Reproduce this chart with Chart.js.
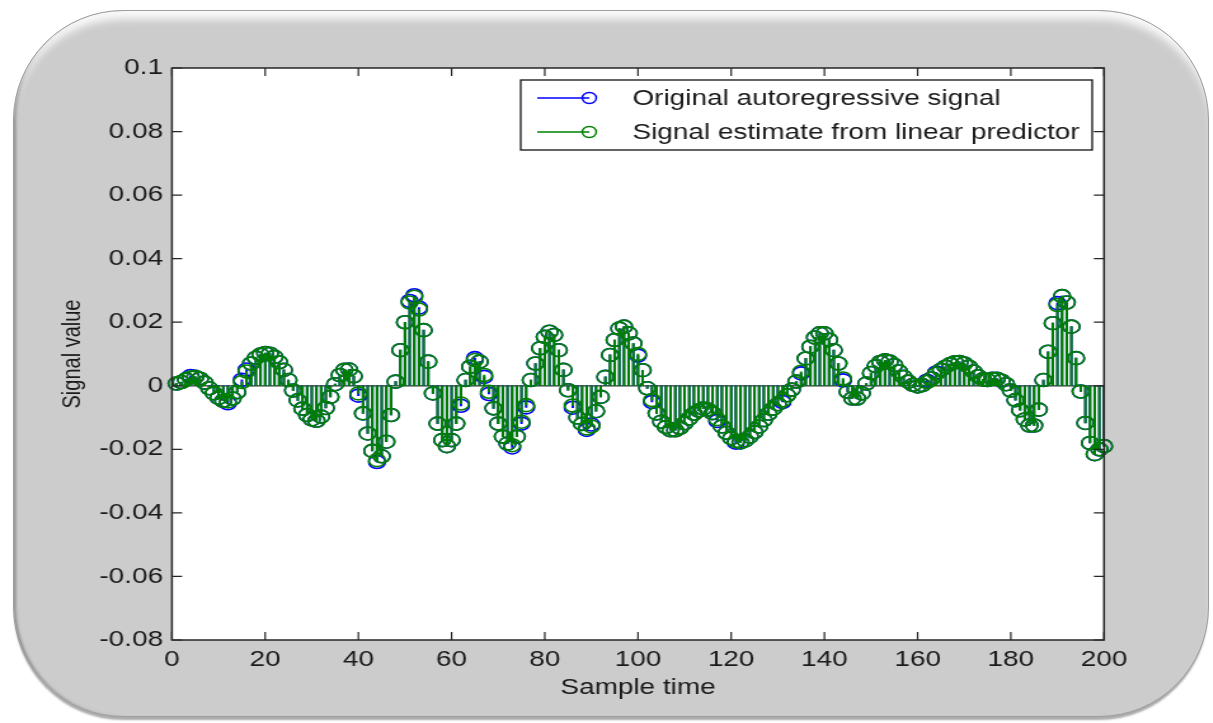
<!DOCTYPE html>
<html>
<head>
<meta charset="utf-8">
<script src="https://cdn.jsdelivr.net/npm/chart.js@4.4.0/dist/chart.umd.min.js"></script>
<style>
html, body { margin: 0; padding: 0; background: #fff; width: 1213px; height: 723px; overflow: hidden; }
#frame {
    position: absolute; left: 13px; top: 10px; width: 1196px; height: 707px;
    box-sizing: border-box; background: #cccccc; border-radius: 110px;
    border: 1px solid #9e9e9e;
    box-shadow: inset 0 13px 9px -5px rgba(255,255,255,0.9),
                inset 4px 0 3px -2px rgba(110,110,110,0.7),
                0 4px 2px -1px rgba(150,150,150,0.8);
}
#plot { position: absolute; left: 0; top: 0; width: 955px; height: 723px; transform: scaleX(1.27); transform-origin: 0 0; }
</style>
</head>
<body>
<div id="frame"></div>
<div id="plot"><canvas id="stemChart" width="955" height="723"></canvas></div>
<script>
// sample times 1..200
const sampleTime = Array.from({length: 200}, (_, i) => i + 1);

const xTicks = [0, 20, 40, 60, 80, 100, 120, 140, 160, 180, 200];
const yTicks = [-0.08, -0.06, -0.04, -0.02, 0, 0.02, 0.04, 0.06, 0.08, 0.1];
const yTickLabels = ['-0.08', '-0.06', '-0.04', '-0.02', '0', '0.02', '0.04', '0.06', '0.08', '0.1'];

const seriesNames = ['Original autoregressive signal', 'Signal estimate from linear predictor'];

const originalSignal = [
    0.0007, 0.0012, 0.0020, 0.0031, 0.0028, 0.0022, 0.0010, -0.0008, -0.0024, -0.0038,
    -0.0047, -0.0055, -0.0040, -0.0020, 0.0019, 0.0051, 0.0070, 0.0088, 0.0098, 0.0103,
    0.0101, 0.0091, 0.0074, 0.0050, 0.0018, -0.0015, -0.0046, -0.0072, -0.0092, -0.0106,
    -0.0110, -0.0097, -0.0070, -0.0035, 0.0005, 0.0034, 0.0050, 0.0051, 0.0030, -0.0031,
    -0.0087, -0.0150, -0.0205, -0.0240, -0.0222, -0.0176, -0.0092, 0.0013, 0.0112, 0.0200,
    0.0267, 0.0285, 0.0246, 0.0175, 0.0076, -0.0024, -0.0119, -0.0171, -0.0190, -0.0171,
    -0.0119, -0.0063, 0.0018, 0.0060, 0.0087, 0.0076, 0.0028, -0.0026, -0.0071, -0.0119,
    -0.0160, -0.0182, -0.0194, -0.0160, -0.0119, -0.0068, 0.0018, 0.0070, 0.0118, 0.0154,
    0.0170, 0.0160, 0.0112, 0.0050, -0.0014, -0.0069, -0.0100, -0.0120, -0.0139, -0.0122,
    -0.0080, -0.0035, 0.0028, 0.0097, 0.0144, 0.0180, 0.0186, 0.0165, 0.0133, 0.0095,
    0.0049, -0.0008, -0.0051, -0.0087, -0.0113, -0.0130, -0.0140, -0.0140, -0.0132, -0.0118,
    -0.0103, -0.0088, -0.0078, -0.0072, -0.0075, -0.0086, -0.0111, -0.0128, -0.0148, -0.0165,
    -0.0179, -0.0178, -0.0172, -0.0160, -0.0146, -0.0128, -0.0108, -0.0088, -0.0072, -0.0058,
    -0.0051, -0.0030, -0.0012, 0.0013, 0.0039, 0.0086, 0.0123, 0.0152, 0.0165, 0.0165,
    0.0145, 0.0112, 0.0070, 0.0017, -0.0019, -0.0040, -0.0040, -0.0024, 0.0007, 0.0040,
    0.0062, 0.0075, 0.0080, 0.0076, 0.0065, 0.0045, 0.0028, 0.0013, 0.0003, -0.0002,
    0.0002, 0.0016, 0.0023, 0.0042, 0.0050, 0.0060, 0.0068, 0.0074, 0.0075, 0.0070,
    0.0060, 0.0045, 0.0030, 0.0020, 0.0018, 0.0022, 0.0022, 0.0016, 0.0005, -0.0015,
    -0.0045, -0.0077, -0.0106, -0.0125, -0.0125, -0.0075, 0.0018, 0.0107, 0.0197, 0.0260,
    0.0282, 0.0262, 0.0186, 0.0087, -0.0018, -0.0117, -0.0180, -0.0215, -0.0200, -0.0190
];

const estimatedSignal = [
    0.0007, 0.0012, 0.0020, 0.0026, 0.0028, 0.0022, 0.0010, -0.0008, -0.0024, -0.0038,
    -0.0047, -0.0049, -0.0040, -0.0020, 0.0012, 0.0045, 0.0070, 0.0088, 0.0098, 0.0103,
    0.0101, 0.0091, 0.0074, 0.0050, 0.0018, -0.0015, -0.0046, -0.0072, -0.0092, -0.0106,
    -0.0110, -0.0097, -0.0070, -0.0035, 0.0005, 0.0034, 0.0050, 0.0051, 0.0030, -0.0024,
    -0.0087, -0.0150, -0.0205, -0.0234, -0.0222, -0.0176, -0.0092, 0.0013, 0.0112, 0.0200,
    0.0262, 0.0280, 0.0240, 0.0175, 0.0076, -0.0024, -0.0119, -0.0171, -0.0190, -0.0171,
    -0.0119, -0.0056, 0.0018, 0.0060, 0.0081, 0.0076, 0.0034, -0.0019, -0.0071, -0.0119,
    -0.0160, -0.0182, -0.0187, -0.0160, -0.0113, -0.0061, 0.0018, 0.0070, 0.0118, 0.0154,
    0.0170, 0.0160, 0.0112, 0.0050, -0.0014, -0.0062, -0.0100, -0.0120, -0.0134, -0.0128,
    -0.0080, -0.0035, 0.0028, 0.0097, 0.0144, 0.0180, 0.0186, 0.0165, 0.0133, 0.0100,
    0.0049, -0.0008, -0.0045, -0.0087, -0.0113, -0.0130, -0.0140, -0.0140, -0.0132, -0.0118,
    -0.0103, -0.0088, -0.0078, -0.0072, -0.0075, -0.0086, -0.0105, -0.0128, -0.0148, -0.0165,
    -0.0174, -0.0178, -0.0172, -0.0160, -0.0146, -0.0128, -0.0108, -0.0088, -0.0072, -0.0058,
    -0.0046, -0.0030, -0.0012, 0.0013, 0.0044, 0.0086, 0.0123, 0.0152, 0.0165, 0.0165,
    0.0145, 0.0112, 0.0070, 0.0023, -0.0019, -0.0040, -0.0040, -0.0024, 0.0007, 0.0040,
    0.0062, 0.0075, 0.0080, 0.0076, 0.0065, 0.0045, 0.0028, 0.0013, 0.0003, -0.0002,
    0.0002, 0.0012, 0.0023, 0.0038, 0.0050, 0.0060, 0.0068, 0.0074, 0.0075, 0.0070,
    0.0060, 0.0045, 0.0030, 0.0020, 0.0018, 0.0022, 0.0022, 0.0016, 0.0005, -0.0015,
    -0.0045, -0.0077, -0.0106, -0.0125, -0.0125, -0.0075, 0.0018, 0.0107, 0.0197, 0.0254,
    0.0282, 0.0262, 0.0186, 0.0087, -0.0018, -0.0117, -0.0180, -0.0215, -0.0200, -0.0190
];

const BLUE = '#0000ff';
const GREEN = '#008000';
const INK = '#262626';
const FONT = '"Liberation Sans", Arial, Helvetica, sans-serif';

const toPoints = (values) => values.map((v, i) => ({x: sampleTime[i], y: v}));

function stems(values, color, order) {
    return {
        type: 'bar',
        data: toPoints(values),
        backgroundColor: color,
        barThickness: 1.3,
        grouped: false,
        order: order
    };
}

function markers(values, color, order) {
    return {
        type: 'line',
        data: toPoints(values),
        showLine: false,
        pointStyle: 'circle',
        pointRadius: 6.5,
        pointBorderWidth: 1.6,
        pointBorderColor: color,
        pointBackgroundColor: 'rgba(0,0,0,0)',
        clip: false,
        order: order
    };
}

// white plot box, zero baseline, inward ticks on all four sides, legend inside
const matlabAxes = {
    id: 'matlabAxes',
    beforeDraw(chart) {
        const {ctx, chartArea: a} = chart;
        ctx.save();
        ctx.fillStyle = '#ffffff';
        ctx.fillRect(a.left, a.top, a.right - a.left, a.bottom - a.top);
        ctx.restore();
    },
    beforeDatasetsDraw(chart) {
        const {ctx, chartArea: a, scales: {y}} = chart;
        const y0 = y.getPixelForValue(0);
        ctx.save();
        ctx.strokeStyle = '#333333';
        ctx.lineWidth = 1.2;
        ctx.beginPath();
        ctx.moveTo(a.left, y0);
        ctx.lineTo(a.right, y0);
        ctx.stroke();
        ctx.restore();
    },
    afterDraw(chart) {
        const {ctx, chartArea: a, scales: {x, y}} = chart;
        ctx.save();
        ctx.strokeStyle = INK;
        ctx.lineWidth = 1.5;
        ctx.strokeRect(a.left, a.top, a.right - a.left, a.bottom - a.top);

        ctx.lineWidth = 1.2;
        ctx.beginPath();
        xTicks.forEach(t => {
            const px = x.getPixelForValue(t);
            ctx.moveTo(px, a.bottom); ctx.lineTo(px, a.bottom - 8);
            ctx.moveTo(px, a.top); ctx.lineTo(px, a.top + 8);
        });
        yTicks.forEach(t => {
            const py = y.getPixelForValue(t);
            ctx.moveTo(a.left, py); ctx.lineTo(a.left + 8, py);
            ctx.moveTo(a.right, py); ctx.lineTo(a.right - 8, py);
        });
        ctx.stroke();

        // legend
        const lx = 410, ly = 80, lw = 450, lh = 70;
        ctx.fillStyle = '#ffffff';
        ctx.fillRect(lx, ly, lw, lh);
        ctx.strokeStyle = '#111111';
        ctx.lineWidth = 1.3;
        ctx.strokeRect(lx, ly, lw, lh);
        [BLUE, GREEN].forEach((color, i) => {
            const ry = ly + 18 + i * 34;
            ctx.strokeStyle = color;
            ctx.lineWidth = 1.4;
            ctx.beginPath();
            ctx.moveTo(lx + 13, ry);
            ctx.lineTo(lx + 54, ry);
            ctx.stroke();
            ctx.beginPath();
            ctx.arc(lx + 54, ry, 5.5, 0, Math.PI * 2);
            ctx.stroke();
            ctx.fillStyle = '#1a1a1a';
            ctx.font = '22px ' + FONT;
            ctx.textAlign = 'left';
            ctx.textBaseline = 'middle';
            ctx.fillText(seriesNames[i], lx + 88, ry + 1);
        });
        ctx.restore();
    }
};

const ctx = document.getElementById('stemChart').getContext('2d');

new Chart(ctx, {
    type: 'bar',
    data: {
        datasets: [
            stems(originalSignal, BLUE, 4),
            markers(originalSignal, BLUE, 3),
            stems(estimatedSignal, GREEN, 2),
            markers(estimatedSignal, GREEN, 1)
        ]
    },
    plugins: [matlabAxes],
    options: {
        responsive: false,
        animation: false,
        events: [],
        layout: {padding: {left: 35.4, right: 85.7, top: 68, bottom: 23}},
        plugins: {legend: {display: false}, tooltip: {enabled: false}},
        scales: {
            x: {
                type: 'linear',
                min: 0,
                max: 200,
                offset: false,
                afterFit: (scale) => { scale.height = 60; },
                afterBuildTicks: (scale) => { scale.ticks = xTicks.map(v => ({value: v})); },
                grid: {display: false, drawTicks: false},
                border: {display: false},
                ticks: {
                    padding: 7,
                    color: '#1a1a1a',
                    font: {family: FONT, size: 22},
                    maxRotation: 0,
                    callback: (v) => String(v)
                },
                title: {
                    display: true,
                    text: 'Sample time',
                    color: '#1a1a1a',
                    font: {family: FONT, size: 22},
                    padding: {top: 0, bottom: -1}
                }
            },
            y: {
                min: -0.08,
                max: 0.1,
                afterFit: (scale) => { scale.width = 100; },
                afterBuildTicks: (scale) => { scale.ticks = yTicks.map(v => ({value: v})); },
                grid: {display: false, drawTicks: false},
                border: {display: false},
                ticks: {
                    padding: 7,
                    color: '#1a1a1a',
                    font: {family: FONT, size: 22},
                    callback: (v) => yTickLabels[yTicks.findIndex(t => Math.abs(t - v) < 1e-9)]
                },
                title: {
                    display: true,
                    text: 'Signal value',
                    color: '#1a1a1a',
                    font: {family: FONT, size: 20},
                    padding: {top: 10, bottom: 0}
                }
            }
        }
    }
});
</script>
</body>
</html>
